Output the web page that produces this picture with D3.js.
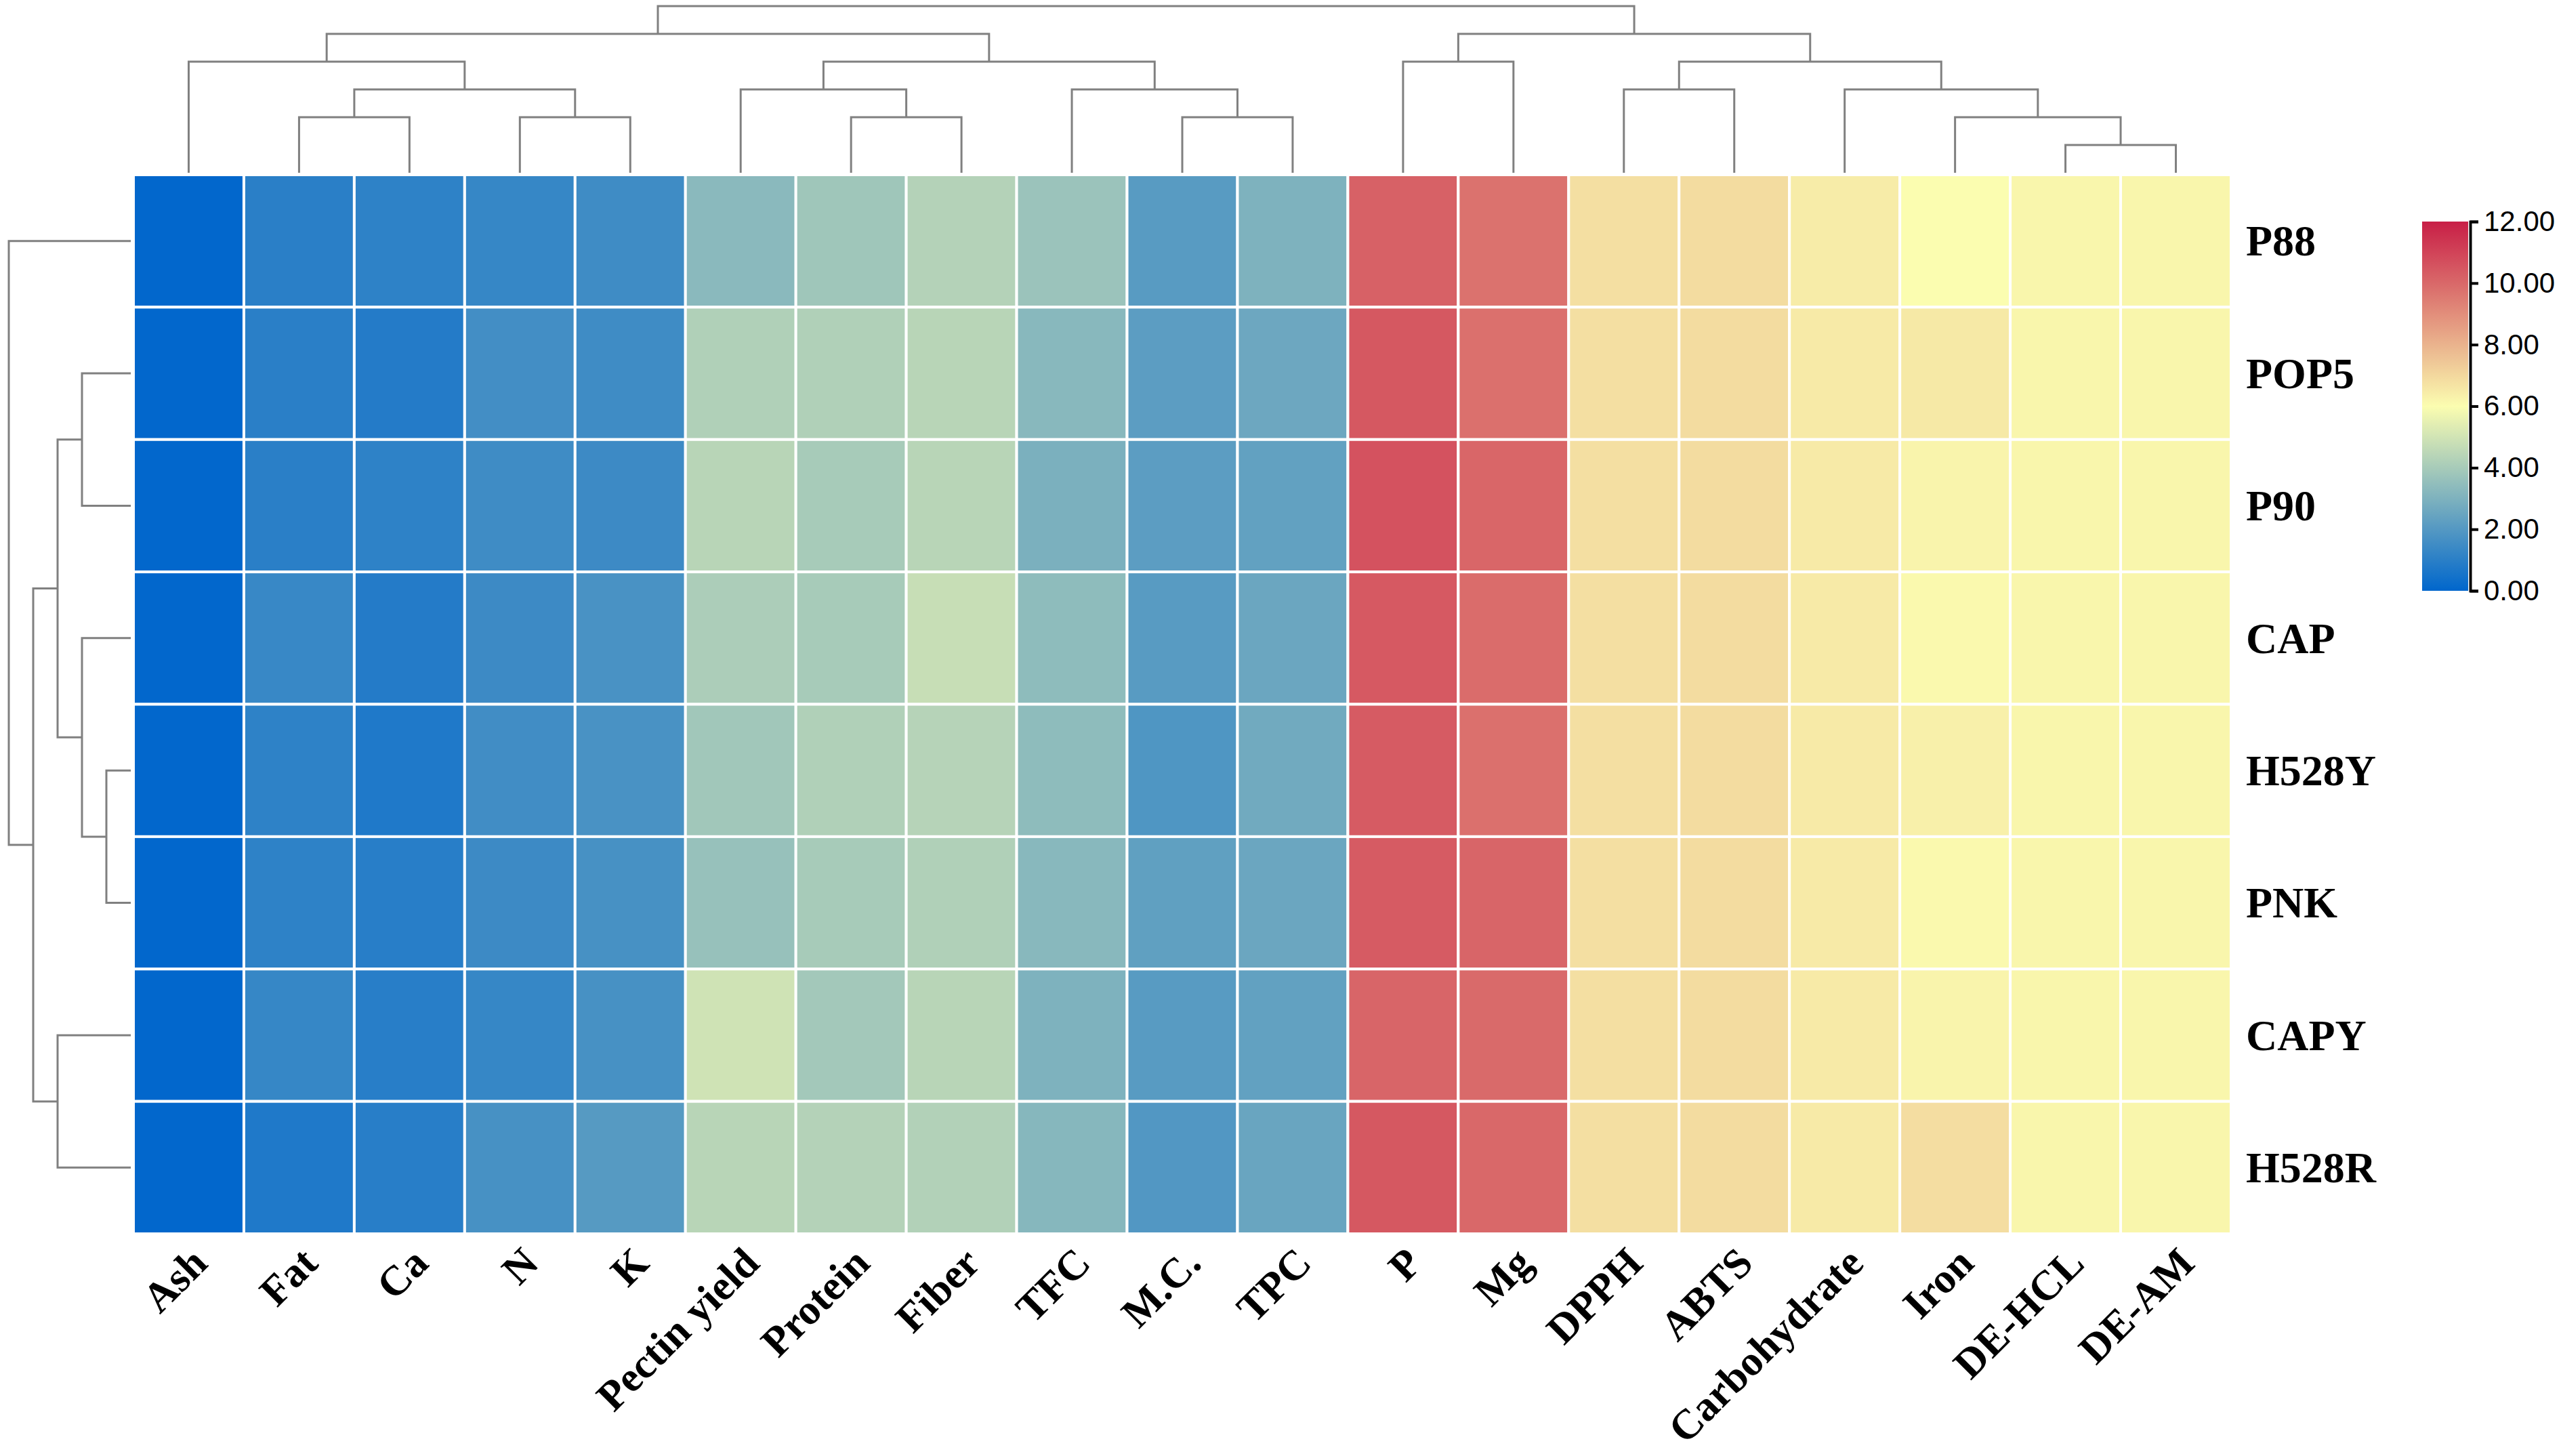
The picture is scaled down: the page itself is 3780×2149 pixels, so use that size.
<!DOCTYPE html>
<html>
<head>
<meta charset="utf-8">
<script src="https://cdn.jsdelivr.net/npm/d3@7"></script>
<style>
  body { margin: 0; background: #fff; }
  svg { display: block; }
</style>
</head>
<body>
<div id="canvas"></div>
<script>
'use strict';

const rowLabels = ['P88', 'POP5', 'P90', 'CAP', 'H528Y', 'PNK', 'CAPY', 'H528R'];
const colLabels = ['Ash', 'Fat', 'Ca', 'N', 'K', 'Pectin yield', 'Protein',
  'Fiber', 'TFC', 'M.C.', 'TPC', 'P', 'Mg', 'DPPH', 'ABTS', 'Carbohydrate',
  'Iron', 'DE-HCL', 'DE-AM'];

/* One array per sample, in the column order above. */
const valuesP88 = [0.05, 1.00, 1.10, 1.30, 1.50, 3.30, 3.80, 4.30, 3.70, 2.10,
  3.00, 10.20, 9.75, 6.80, 6.90, 6.45, 6.00, 6.20, 6.20];
const valuesPOP5 = [0.05, 1.00, 0.85, 1.60, 1.50, 4.20, 4.20, 4.40, 3.25, 2.20,
  2.60, 10.45, 9.80, 6.80, 6.90, 6.50, 6.55, 6.20, 6.20];
const valuesP90 = [0.05, 1.00, 1.10, 1.50, 1.45, 4.40, 4.00, 4.40, 2.95, 2.20,
  2.35, 10.60, 10.05, 6.80, 6.90, 6.50, 6.25, 6.20, 6.20];
const valuesCAP = [0.05, 1.35, 0.85, 1.45, 1.75, 4.10, 4.00, 4.75, 3.40, 2.10,
  2.55, 10.40, 9.90, 6.80, 6.90, 6.50, 6.12, 6.20, 6.20];
const valuesH528Y = [0.05, 1.10, 0.75, 1.55, 1.75, 3.85, 4.20, 4.35, 3.40, 1.90,
  2.70, 10.35, 9.80, 6.80, 6.90, 6.50, 6.35, 6.20, 6.20];
const valuesPNK = [0.05, 1.10, 0.95, 1.45, 1.70, 3.60, 4.00, 4.20, 3.25, 2.30,
  2.55, 10.35, 10.10, 6.80, 6.90, 6.50, 6.12, 6.20, 6.20];
const valuesCAPY = [0.05, 1.30, 0.95, 1.30, 1.70, 4.95, 3.90, 4.40, 3.00, 2.10,
  2.35, 10.10, 9.95, 6.80, 6.90, 6.50, 6.25, 6.20, 6.20];
const valuesH528R = [0.05, 0.75, 0.95, 1.70, 2.05, 4.40, 4.30, 4.25, 3.20, 1.95,
  2.50, 10.45, 10.00, 6.80, 6.90, 6.50, 6.85, 6.20, 6.20];

const rowValues = [valuesP88, valuesPOP5, valuesP90, valuesCAP, valuesH528Y,
  valuesPNK, valuesCAPY, valuesH528R];

/* Cluster trees, written as nested pairs of label indices. */
const colTree = [
  [[0, [[1, 2], [3, 4]]], [[5, [6, 7]], [8, [9, 10]]]],
  [[11, 12], [[13, 14], [15, [16, [17, 18]]]]],
];
const rowTree = [0, [[[1, 2], [3, [4, 5]]], [6, 7]]];

const legendTicks = [0, 2, 4, 6, 8, 10, 12];
const colorStops = ['#0066cc', '#fbfdb0', '#c81e46'];

const width = 3780;
const height = 2149;
const labelFont = '"Times New Roman", "Liberation Serif", serif';

const svg = d3.select('#canvas').append('svg')
    .attr('width', width)
    .attr('height', height);

const x = d3.scaleBand().domain(colLabels).range([197, 3293]);
const y = d3.scaleBand().domain(rowLabels).range([258, 1821]);
const color = d3.scaleLinear()
    .domain([0, 6, 12])
    .range(colorStops)
    .interpolate(d3.interpolateRgb);

/* Heatmap cells, with white gaps between them. */
svg.append('g')
    .selectAll('g')
    .data(rowValues)
    .join('g')
    .each(function(values, r) {
      d3.select(this).selectAll('rect')
          .data(values)
          .join('rect')
          .attr('x', (d, c) => x(colLabels[c]))
          .attr('y', y(rowLabels[r]))
          .attr('width', x.bandwidth())
          .attr('height', y.bandwidth())
          .attr('fill', d => color(d))
          .attr('stroke', '#fff')
          .attr('stroke-width', 4);
    });

/**
 * Draws an elbow dendrogram. Internal nodes sit on a level given by their
 * depth, leaves all reach down to the deepest level next to the heatmap.
 */
function drawDendrogram(tree, leafPos, levelRange, side) {
  const root = d3.hierarchy(tree, d => Array.isArray(d) ? d : null);
  root.eachAfter(node => {
    node.pos = node.children ?
      d3.mean(node.children, c => c.pos) : leafPos(node.data);
  });
  const maxDepth = d3.max(root.leaves(), d => d.depth);
  const level = d3.scaleLinear().domain([0, maxDepth]).range(levelRange);
  const lvl = node => level(node.children ? node.depth : maxDepth);

  svg.append('g')
      .attr('fill', 'none')
      .attr('stroke', '#808080')
      .attr('stroke-width', 3)
      .selectAll('path')
      .data(root.descendants().filter(d => d.children))
      .join('path')
      .attr('d', node => {
        const [a, b] = node.children;
        if (side === 'top') {
          return `M${a.pos},${lvl(a)}V${lvl(node)}H${b.pos}V${lvl(b)}`;
        }
        return `M${lvl(a)},${a.pos}H${lvl(node)}V${b.pos}H${lvl(b)}`;
      });
}

drawDendrogram(colTree, i => x(colLabels[i]) + x.bandwidth() / 2,
    [9, 255], 'top');
drawDendrogram(rowTree, i => y(rowLabels[i]) + y.bandwidth() / 2,
    [13, 193], 'left');

/* Row labels on the right. */
svg.append('g')
    .selectAll('text')
    .data(rowLabels)
    .join('text')
    .attr('x', 3315)
    .attr('y', d => y(d) + y.bandwidth() / 2)
    .attr('dy', '0.34em')
    .attr('font-family', labelFont)
    .attr('font-weight', 'bold')
    .attr('font-size', 64)
    .text(d => d);

/* Column labels, rotated 45 degrees under the heatmap. */
const labelTop = y.range()[1] + 16;
svg.append('g')
    .selectAll('text')
    .data(colLabels)
    .join('text')
    .attr('transform', d =>
      `translate(${x(d) + x.bandwidth() / 2},${labelTop}) rotate(-45)`)
    .attr('text-anchor', 'end')
    .attr('dy', '0.7em')
    .attr('font-family', labelFont)
    .attr('font-weight', 'bold')
    .attr('font-size', 62)
    .text(d => d);

/* Colour legend. */
const legendScale = d3.scaleLinear().domain([0, 12]).range([872, 327]);
const gradient = svg.append('defs').append('linearGradient')
    .attr('id', 'legend-gradient')
    .attr('x1', 0).attr('y1', 1)
    .attr('x2', 0).attr('y2', 0);
gradient.selectAll('stop')
    .data(d3.range(0, 12.01, 0.5))
    .join('stop')
    .attr('offset', d => d / 12)
    .attr('stop-color', d => color(d));

svg.append('rect')
    .attr('x', 3575)
    .attr('y', legendScale(12))
    .attr('width', 68)
    .attr('height', legendScale(0) - legendScale(12))
    .attr('fill', 'url(#legend-gradient)');

const legendAxis = svg.append('g')
    .attr('transform', 'translate(3646,0)')
    .call(d3.axisRight(legendScale)
        .tickValues(legendTicks)
        .tickFormat(d3.format('.2f'))
        .tickSize(12)
        .tickPadding(8));
legendAxis.selectAll('path, line')
    .attr('stroke', '#000')
    .attr('stroke-width', 4);
legendAxis.selectAll('text')
    .attr('font-family', 'Arial, "Liberation Sans", sans-serif')
    .attr('font-size', 42)
    .attr('fill', '#000');
</script>
</body>
</html>
